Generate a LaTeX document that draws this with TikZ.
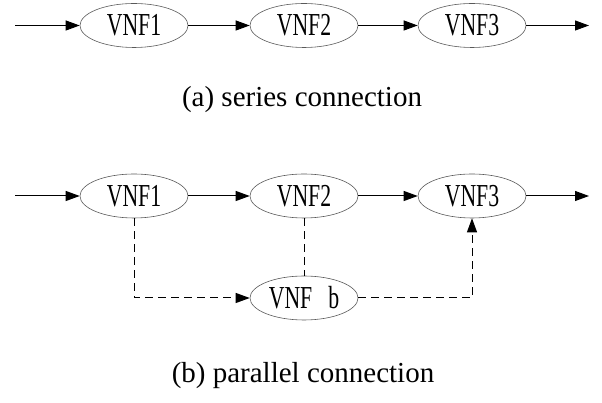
\documentclass[tikz,border=0pt]{standalone}
\usepackage{fontspec}
\setmainfont{Liberation Serif}
\newfontfamily\nodefont[FakeStretch=0.68]{Liberation Serif}
\usetikzlibrary{shapes.geometric,arrows.meta}
\begin{document}
\begin{tikzpicture}[x=1pt,y=1pt,
  vnf/.style={ellipse,draw=black!65,line width=0.6pt,minimum width=108pt,minimum height=44pt,inner sep=0pt,
    font=\nodefont\fontsize{32}{34}\selectfont},
  tip/.style={-{Triangle[length=14pt,width=10pt]}},
  flow/.style={line width=1pt,tip},
  dflow/.style={line width=1pt,dash pattern=on 8pt off 5pt},
  captext/.style={font=\fontsize{29}{34}\selectfont}]
\useasboundingbox (0,0) rectangle (602,403);
% (a)
\coordinate (ain) at (15,377.5);
\node[vnf] (a1) at (134,377.5) {VNF1};
\node[vnf] (a2) at (304,377.5) {VNF2};
\node[vnf] (a3) at (472,377.5) {VNF3};
\coordinate (aout) at (589,377.5);
\draw[flow] (ain) -- (a1);
\draw[flow] (a1) -- (a2);
\draw[flow] (a2) -- (a3);
\draw[flow] (a3) -- (aout);
\node[captext] (capa) at (302,303) {(a) series connection};
% (b)
\coordinate (bin) at (15,207);
\node[vnf] (b1) at (134,207) {VNF1};
\node[vnf] (b2) at (304,207) {VNF2};
\node[vnf] (b3) at (472,207) {VNF3};
\node[vnf] (bb) at (304,105) {VNF\hspace{16pt}b};
\coordinate (bout) at (589,207);
\draw[flow] (bin) -- (b1);
\draw[flow] (b1) -- (b2);
\draw[flow] (b2) -- (b3);
\draw[flow] (b3) -- (bout);
\draw[dflow,tip] (b1.south) -- (b1.south |- bb.west) -- (bb.west);
\draw[dflow] (b2.south) -- (bb.north);
\draw[dflow,tip] (bb.east) -- (b3.south |- bb.east) -- (b3.south);
\node[captext] (capb) at (303,27) {(b) parallel connection};
\end{tikzpicture}
\end{document}
